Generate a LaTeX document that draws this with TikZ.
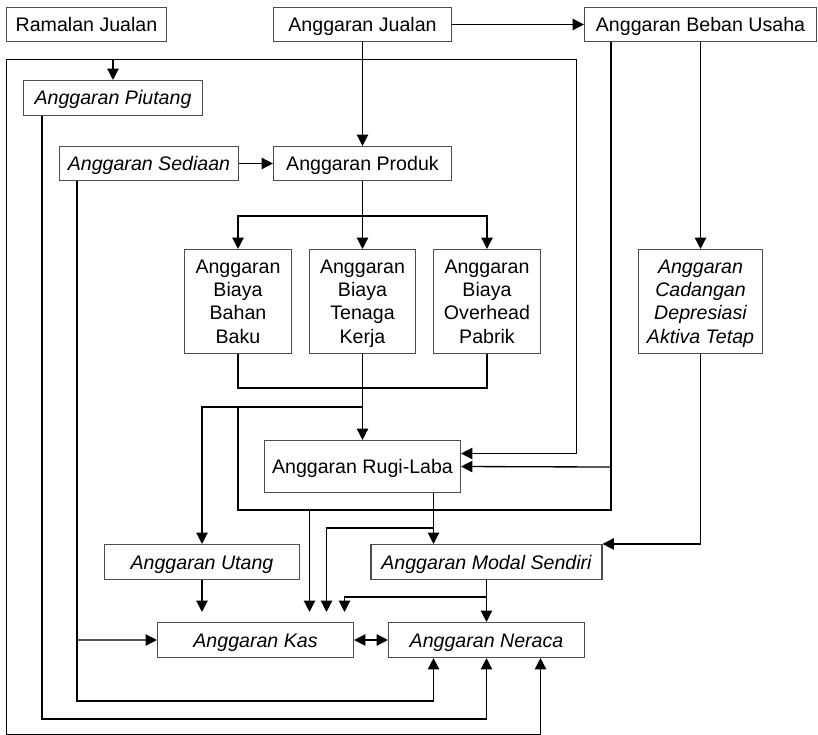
\documentclass[tikz,border=0pt]{standalone}
\usepackage{fontspec}
\setmainfont{Liberation Sans}
\usetikzlibrary{arrows.meta,calc}

\begin{document}
\begin{tikzpicture}[
    x=0.75pt,y=-0.75pt,
    font=\fontsize{14.7}{17.5}\selectfont,
    boxsize/.style 2 args={minimum width=#1*0.75pt,minimum height=#2*0.75pt},
    boxbase/.style={draw=black!70,line width=0.8pt,inner sep=0pt,align=center},
    box/.style={boxbase,text height=10.5pt,text depth=0pt},
    ibox/.style={box,font=\fontsize{14.7}{17.5}\selectfont\itshape},
    tallbox/.style={boxbase,text depth=0pt},
    itallbox/.style={tallbox,font=\fontsize{14.7}{17.5}\selectfont\itshape},
    line/.style={line width=1pt},
    arr/.style={line,-{Triangle[length=8.5pt,width=8.5pt]}},
    arrboth/.style={line,{Triangle[length=8.5pt,width=8.5pt]}-{Triangle[length=8.5pt,width=8.5pt]}}
    ]

    \fill[white] (-0.5,-0.5) rectangle (817.5,734.5);
    \useasboundingbox (-0.5,-0.5) rectangle (817.5,734.5);

    % top row
    \node[box,boxsize={160}{34}] (ramalan) at (86,24) {Ramalan Jualan};
    \node[box,boxsize={178}{34}] (jualan) at (362,24) {Anggaran Jualan};
    \node[box,boxsize={232}{34}] (beban) at (700,24) {Anggaran Beban Usaha};

    % piutang, sediaan, produk
    \node[ibox,boxsize={179}{35}] (piutang) at (112.5,97.5) {Anggaran Piutang};
    \node[ibox,boxsize={179}{34}] (sediaan) at (148.5,163) {Anggaran Sediaan};
    \node[box,boxsize={178}{34}] (produk) at (362,163) {Anggaran Produk};

    % biaya
    \node[tallbox,boxsize={107}{104}] (bahan) at (237.5,301) {Anggaran\\Biaya\\Bahan\\Baku};
    \node[tallbox,boxsize={106}{104}] (tenaga) at (362,301) {Anggaran\\Biaya\\Tenaga\\Kerja};
    \node[tallbox,boxsize={107}{104}] (overhead) at (486.5,301) {Anggaran\\Biaya\\Overhead\\Pabrik};
    \node[itallbox,boxsize={124}{104}] (cadangan) at (700,301) {Anggaran\\Cadangan\\Depresiasi\\Aktiva Tetap};

    % rugi-laba, utang, modal
    \node[box,boxsize={196}{52}] (rugilaba) at (362,466) {Anggaran Rugi-Laba};
    \node[ibox,boxsize={195}{35}] (utang) at (201.5,561.5) {Anggaran Utang};
    \node[ibox,boxsize={231}{35}] (modal) at (486,561.5) {Anggaran Modal Sendiri};

    % kas, neraca
    \node[ibox,boxsize={196}{35}] (kas) at (255,639.5) {Anggaran Kas};
    \node[ibox,boxsize={196}{35}] (neraca) at (486,639.5) {Anggaran Neraca};

    % outer frame
    \coordinate (frameTL) at (6,59);
    \coordinate (frameTR) at (576,59);
    \coordinate (frameBL) at (6,734);
    \draw[arr] (frameTL) -- (frameTR) |- ($(rugilaba.east)+(0,-13)$);
    \draw[arr] (frameTL) -- (frameBL) -| ($(neraca.south)+(54,0)$);
    \draw[arr] (piutang.north |- frameTL) -- (piutang.north);

    % jualan
    \draw[arr] (jualan) -- (produk);
    \draw[arr] (jualan) -- (beban);
    \draw[arr] (sediaan) -- (produk);

    % produk to biaya
    \draw[arr] (produk) -- (tenaga);
    \draw[arr] ($(produk.south)+(0,35)$) -| (bahan);
    \draw[arr] ($(produk.south)+(0,35)$) -| (overhead);

    % biaya to rugi-laba and utang
    \draw[line] (bahan.south) -- ++(0,34) -| (overhead.south);
    \draw[arr] (tenaga) -- (rugilaba);
    \draw[arr] ($(tenaga.south)+(0,53)$) -| (utang.north);

    % beban usaha
    \draw[arr] (beban) -- (cadangan);
    \draw[arr] (cadangan.south) |- (modal.north east);
    \draw[line] ($(beban.south west)+(27,0)$) |- ($(bahan.south)+(0,156)$) -- ($(bahan.south)+(0,53)$);
    \draw[arr] ($(beban.south west)+(27,425)$) -- (rugilaba.east);
    \draw[arr] ($(kas.north)+(54,-113)$) -- ($(kas.north)+(54,-10)$);

    % rugi-laba to modal and kas
    \draw[arr] ($(rugilaba.south)+(71,0)$) -- ($(modal.north)+(-53,0)$);
    \draw[arr] ($(rugilaba.south)+(71,35)$) -| ($(kas.north)+(71,-10)$);

    % modal to neraca and kas
    \draw[arr] (modal) -- (neraca);
    \draw[arr] ($(modal.south)+(0,17)$) -| ($(kas.north)+(89,-10)$);

    % utang, kas, neraca
    \draw[arr] (utang.south) -- ($(utang.south |- kas.north)+(0,-10)$);
    \draw[arrboth] (kas) -- (neraca);

    % sediaan and piutang to kas and neraca
    \draw[arr] ($(sediaan.south west)+(18,0)$) |- ($(neraca.south)+(-53,43)$) -- ($(neraca.south)+(-53,0)$);
    \draw[arr] ($(sediaan.south west)+(18,459)$) -- (kas.west);
    \draw[arr] ($(piutang.south west)+(19,0)$) |- ($(neraca.south)+(0,61)$) -- (neraca.south);

\end{tikzpicture}
\end{document}
